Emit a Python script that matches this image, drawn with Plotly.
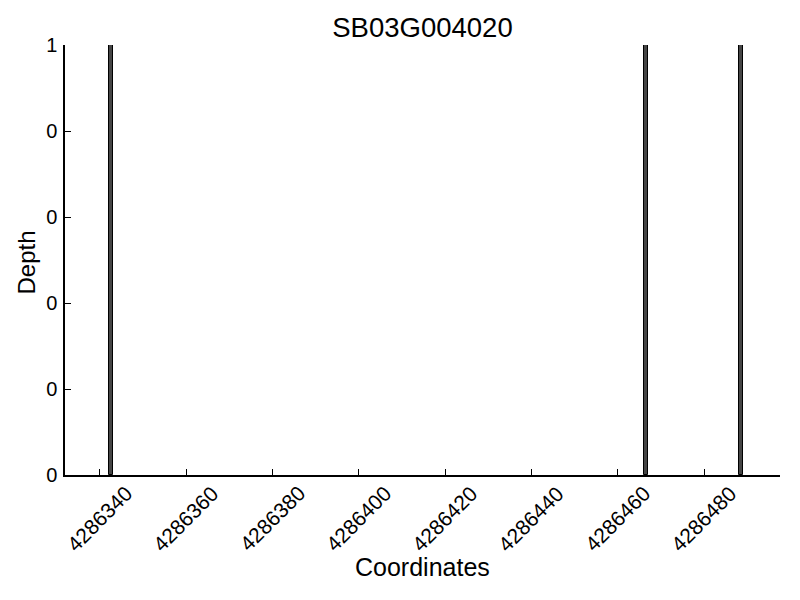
import plotly.graph_objects as go

title = "SB03G004020"
positions = [4286342, 4286466, 4286488]
depths = [1, 1, 1]
ytick_vals = [0, 0.2, 0.4, 0.6, 0.8, 1.0]
ytick_text = ["0", "0", "0", "0", "0", "1"]
xtick_vals = [4286340, 4286360, 4286380, 4286400, 4286420, 4286440, 4286460, 4286480]
xtick_text = [str(v) for v in xtick_vals]

font = "Liberation Sans, Arial, sans-serif"

fig = go.Figure()
fig.add_trace(go.Bar(
    x=positions, y=depths, width=1, offset=0,
    marker=dict(color="#454545", line=dict(color="black", width=1)),
))

annotations = []
for v, t in zip(xtick_vals, xtick_text):
    annotations.append(dict(
        x=v, xref="x", y=0, yref="paper", yanchor="top", xanchor="center",
        text=t, textangle=-45, showarrow=False, yshift=-4,
        font=dict(family=font, size=21, color="black"),
    ))
annotations.append(dict(
    x=0.5, xref="paper", y=-0.214, yref="paper", xanchor="center", yanchor="middle",
    text="Coordinates", showarrow=False, font=dict(family=font, size=25, color="black"),
))
annotations.append(dict(
    x=-0.054, xref="paper", y=0.495, yref="paper", xanchor="center", yanchor="middle",
    text="Depth", textangle=-90, showarrow=False, font=dict(family=font, size=24, color="black"),
))

fig.update_layout(
    width=800, height=600,
    plot_bgcolor="white", paper_bgcolor="white",
    margin=dict(l=57, r=28, t=37, b=133),
    title=dict(text=title, x=0.5, xref="paper", y=0.967, yanchor="middle",
               font=dict(family=font, size=27.5, color="black")),
    showlegend=False,
    font=dict(family=font, color="black"),
    bargap=0,
    annotations=annotations,
)
fig.update_xaxes(
    range=[4286331.9, 4286497.6],
    tickvals=xtick_vals, showticklabels=False,
    ticks="inside", ticklen=6, tickcolor="black",
    showline=True, linecolor="black", linewidth=1.5,
    showgrid=False, zeroline=False,
)
fig.update_yaxes(
    range=[0, 1],
    tickvals=ytick_vals, ticktext=ytick_text,
    ticks="inside", ticklen=6, tickcolor="black",
    showline=True, linecolor="black", linewidth=1.5,
    showgrid=False, zeroline=False,
    tickfont=dict(size=20, family=font),
    ticklabelstandoff=2,
)
fig.write_html("out.html")
